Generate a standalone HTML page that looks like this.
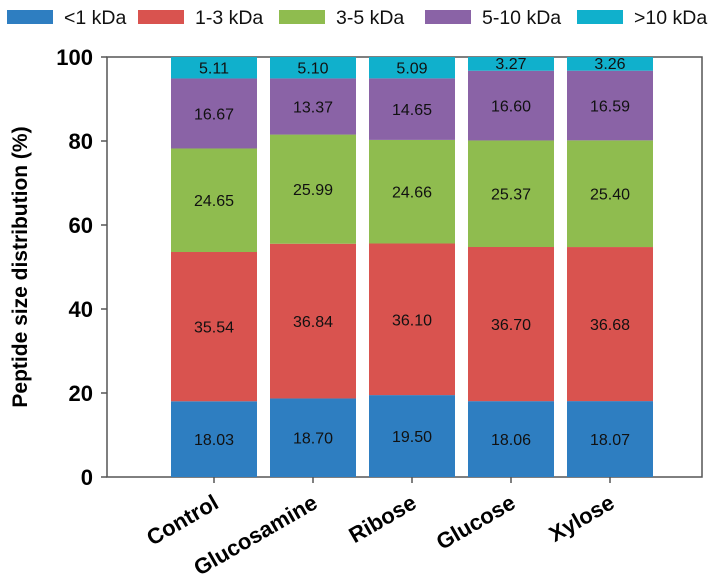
<!DOCTYPE html>
<html><head><meta charset="utf-8"><style>
body{margin:0;background:#fff;font-family:"Liberation Sans",Arial,sans-serif}
</style></head><body>
<svg id="c" width="712" height="580" xmlns="http://www.w3.org/2000/svg" font-family="Liberation Sans, Arial, sans-serif"></svg>
<script>
const categories=["Control","Glucosamine","Ribose","Glucose","Xylose"];
const seriesNames=["<1 kDa","1-3 kDa","3-5 kDa","5-10 kDa",">10 kDa"];
const s1=[18.03,18.70,19.50,18.06,18.07];
const s2=[35.54,36.84,36.10,36.70,36.68];
const s3=[24.65,25.99,24.66,25.37,25.40];
const s4=[16.67,13.37,14.65,16.60,16.59];
const s5=[5.11,5.10,5.09,3.27,3.26];
const yTicks=[0,20,40,60,80,100];
const series=[s1,s2,s3,s4,s5];
const colors=["#2e7ec1","#d9534f","#8fbc4f","#8a63a6","#10b0cc"];
const svg=document.getElementById('c');
const NS="http://www.w3.org/2000/svg";
const X0=107,X1=702,Y0=477,Y1=57;
const y=v=>Y0-(v/100)*(Y0-Y1);
const x=i=>214+i*99;
const bw=86;
function mk(t,a,p){const e=document.createElementNS(NS,t);for(const k in a)e.setAttribute(k,a[k]);(p||svg).appendChild(e);return e;}
const fr=mk('rect',{x:X0,y:Y1,width:X1-X0,height:Y0-Y1,fill:'none',stroke:'#555','stroke-width':1.5});


yTicks.forEach(t=>{
 const l=mk('line',{x1:X0-6,x2:X0,y1:y(t),y2:y(t),stroke:'#555','stroke-width':1.5});
 
 
 const tx=mk('text',{x:X0-14,y:y(t)+8,'text-anchor':'end','font-size':22,'font-weight':'bold'});
 tx.textContent=t;
 
 
});
categories.forEach((c,i)=>{
 let base=0;
 series.forEach((s,j)=>{
  const v=s[i];
  const r=mk('rect',{x:x(i)-bw/2,y:y(base+v),width:bw,height:y(base)-y(base+v),fill:colors[j]});
  
  
  const ly=j===4&&v<4?y(base+v)+12:(y(base)+y(base+v))/2+6;
  const t=mk('text',{x:x(i),y:ly,'text-anchor':'middle','font-size':16,fill:'#111'});
  t.textContent=v.toFixed(2);
  
  
  base+=v;
 });
 const tk=mk('line',{x1:x(i),x2:x(i),y1:Y0,y2:Y0+6,stroke:'#555','stroke-width':1.5});
 
 
 const ax=x(i)+6, ay=Y0+30;
 const ct=mk('text',{x:ax,y:ay,'text-anchor':'end','font-size':22,'font-weight':'bold',transform:`rotate(-30 ${ax} ${ay})`});
 ct.textContent=c;
 
 
});
const yt=mk('text',{x:27,y:267,'text-anchor':'middle','font-size':21,'font-weight':'bold',transform:'rotate(-90 27 267)'});
yt.textContent='Peptide size distribution (%)';


const lx=[7,138,279,425,577];
seriesNames.forEach((n,j)=>{
 const g=mk('g',{});
 
 
 mk('rect',{x:lx[j],y:10,width:46,height:14,fill:colors[j]},g);
 const t=mk('text',{x:lx[j]+57,y:24,'font-size':19.5,fill:'#111'},g);
 t.textContent=n;
});
</script>
</body></html>
